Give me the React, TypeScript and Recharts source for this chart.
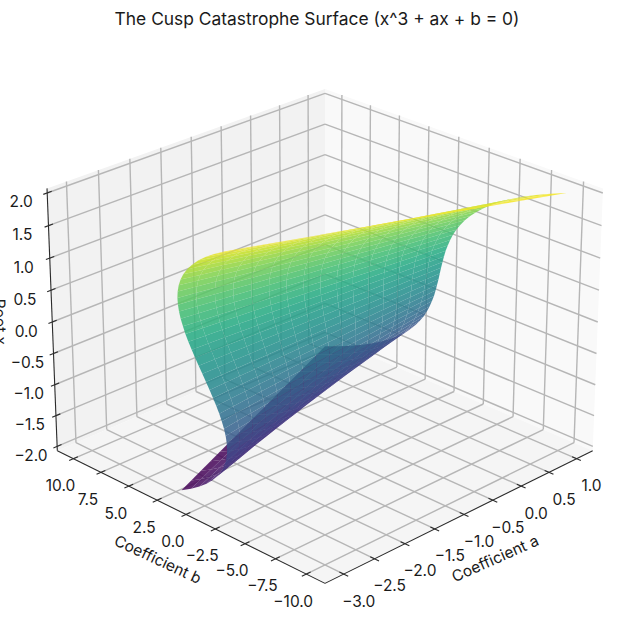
import { ScatterChart, Scatter, XAxis, YAxis } from 'recharts';

const TITLE = 'The Cusp Catastrophe Surface (x^3 + ax + b = 0)';

const aTicks = [-3, -2.5, -2, -1.5, -1, -0.5, 0, 0.5, 1];
const bTicks = [-10, -7.5, -5, -2.5, 0, 2.5, 5, 7.5, 10];
const rootTicks = [-2, -1.5, -1, -0.5, 0, 0.5, 1, 1.5, 2];

// surface samples: one row per root value, one column per value of a
const aSamples = [-3, -2.75, -2.5, -2.25, -2, -1.75, -1.5, -1.25, -1, -0.75, -0.5, -0.25, 0, 0.25, 0.5, 0.75, 1];
const rootSamples = [
  2, 1.9, 1.8, 1.7, 1.6, 1.5, 1.4, 1.3, 1.2, 1.1, 1, 0.9, 0.8, 0.7, 0.6, 0.5, 0.4, 0.3, 0.2, 0.1, 0,
  -0.1, -0.2, -0.3, -0.4, -0.5, -0.6, -0.7, -0.8, -0.9, -1, -1.1, -1.2, -1.3, -1.4, -1.5, -1.6, -1.7, -1.8, -1.9, -2,
];
const bRows = [
  [-2, -2.5, -3, -3.5, -4, -4.5, -5, -5.5, -6, -6.5, -7, -7.5, -8, -8.5, -9, -9.5, -10],
  [-1.16, -1.63, -2.11, -2.58, -3.06, -3.53, -4.01, -4.48, -4.96, -5.43, -5.91, -6.38, -6.86, -7.33, -7.81, -8.28, -8.76],
  [-0.43, -0.88, -1.33, -1.78, -2.23, -2.68, -3.13, -3.58, -4.03, -4.48, -4.93, -5.38, -5.83, -6.28, -6.73, -7.18, -7.63],
  [0.19, -0.24, -0.66, -1.09, -1.51, -1.94, -2.36, -2.79, -3.21, -3.64, -4.06, -4.49, -4.91, -5.34, -5.76, -6.19, -6.61],
  [0.7, 0.3, -0.1, -0.5, -0.9, -1.3, -1.7, -2.1, -2.5, -2.9, -3.3, -3.7, -4.1, -4.5, -4.9, -5.3, -5.7],
  [1.13, 0.75, 0.38, 0, -0.38, -0.75, -1.13, -1.5, -1.88, -2.25, -2.63, -3, -3.38, -3.75, -4.13, -4.5, -4.88],
  [1.46, 1.11, 0.76, 0.41, 0.06, -0.29, -0.64, -0.99, -1.34, -1.69, -2.04, -2.39, -2.74, -3.09, -3.44, -3.79, -4.14],
  [1.7, 1.38, 1.05, 0.73, 0.4, 0.08, -0.25, -0.57, -0.9, -1.22, -1.55, -1.87, -2.2, -2.52, -2.85, -3.17, -3.5],
  [1.87, 1.57, 1.27, 0.97, 0.67, 0.37, 0.07, -0.23, -0.53, -0.83, -1.13, -1.43, -1.73, -2.03, -2.33, -2.63, -2.93],
  [1.97, 1.69, 1.42, 1.14, 0.87, 0.59, 0.32, 0.04, -0.23, -0.51, -0.78, -1.06, -1.33, -1.61, -1.88, -2.16, -2.43],
  [2, 1.75, 1.5, 1.25, 1, 0.75, 0.5, 0.25, 0, -0.25, -0.5, -0.75, -1, -1.25, -1.5, -1.75, -2],
  [1.97, 1.75, 1.52, 1.3, 1.07, 0.85, 0.62, 0.4, 0.17, -0.05, -0.28, -0.5, -0.73, -0.95, -1.18, -1.4, -1.63],
  [1.89, 1.69, 1.49, 1.29, 1.09, 0.89, 0.69, 0.49, 0.29, 0.09, -0.11, -0.31, -0.51, -0.71, -0.91, -1.11, -1.31],
  [1.76, 1.58, 1.41, 1.23, 1.06, 0.88, 0.71, 0.53, 0.36, 0.18, 0.01, -0.17, -0.34, -0.52, -0.69, -0.87, -1.04],
  [1.58, 1.43, 1.28, 1.13, 0.98, 0.83, 0.68, 0.53, 0.38, 0.23, 0.08, -0.07, -0.22, -0.37, -0.52, -0.67, -0.82],
  [1.38, 1.25, 1.13, 1, 0.88, 0.75, 0.63, 0.5, 0.38, 0.25, 0.13, 0, -0.13, -0.25, -0.38, -0.5, -0.63],
  [1.14, 1.04, 0.94, 0.84, 0.74, 0.64, 0.54, 0.44, 0.34, 0.24, 0.14, 0.04, -0.06, -0.16, -0.26, -0.36, -0.46],
  [0.87, 0.8, 0.72, 0.65, 0.57, 0.5, 0.42, 0.35, 0.27, 0.2, 0.12, 0.05, -0.03, -0.1, -0.18, -0.25, -0.33],
  [0.59, 0.54, 0.49, 0.44, 0.39, 0.34, 0.29, 0.24, 0.19, 0.14, 0.09, 0.04, -0.01, -0.06, -0.11, -0.16, -0.21],
  [0.3, 0.27, 0.25, 0.22, 0.2, 0.17, 0.15, 0.12, 0.1, 0.07, 0.05, 0.02, 0, -0.03, -0.05, -0.08, -0.1],
  [0, 0, 0, 0, 0, 0, 0, 0, 0, 0, 0, 0, 0, 0, 0, 0, 0],
  [-0.3, -0.27, -0.25, -0.22, -0.2, -0.17, -0.15, -0.12, -0.1, -0.07, -0.05, -0.02, 0, 0.03, 0.05, 0.08, 0.1],
  [-0.59, -0.54, -0.49, -0.44, -0.39, -0.34, -0.29, -0.24, -0.19, -0.14, -0.09, -0.04, 0.01, 0.06, 0.11, 0.16, 0.21],
  [-0.87, -0.8, -0.72, -0.65, -0.57, -0.5, -0.42, -0.35, -0.27, -0.2, -0.12, -0.05, 0.03, 0.1, 0.18, 0.25, 0.33],
  [-1.14, -1.04, -0.94, -0.84, -0.74, -0.64, -0.54, -0.44, -0.34, -0.24, -0.14, -0.04, 0.06, 0.16, 0.26, 0.36, 0.46],
  [-1.38, -1.25, -1.13, -1, -0.88, -0.75, -0.63, -0.5, -0.38, -0.25, -0.13, 0, 0.13, 0.25, 0.38, 0.5, 0.63],
  [-1.58, -1.43, -1.28, -1.13, -0.98, -0.83, -0.68, -0.53, -0.38, -0.23, -0.08, 0.07, 0.22, 0.37, 0.52, 0.67, 0.82],
  [-1.76, -1.58, -1.41, -1.23, -1.06, -0.88, -0.71, -0.53, -0.36, -0.18, -0.01, 0.17, 0.34, 0.52, 0.69, 0.87, 1.04],
  [-1.89, -1.69, -1.49, -1.29, -1.09, -0.89, -0.69, -0.49, -0.29, -0.09, 0.11, 0.31, 0.51, 0.71, 0.91, 1.11, 1.31],
  [-1.97, -1.75, -1.52, -1.3, -1.07, -0.85, -0.62, -0.4, -0.17, 0.05, 0.28, 0.5, 0.73, 0.95, 1.18, 1.4, 1.63],
  [-2, -1.75, -1.5, -1.25, -1, -0.75, -0.5, -0.25, 0, 0.25, 0.5, 0.75, 1, 1.25, 1.5, 1.75, 2],
  [-1.97, -1.69, -1.42, -1.14, -0.87, -0.59, -0.32, -0.04, 0.23, 0.51, 0.78, 1.06, 1.33, 1.61, 1.88, 2.16, 2.43],
  [-1.87, -1.57, -1.27, -0.97, -0.67, -0.37, -0.07, 0.23, 0.53, 0.83, 1.13, 1.43, 1.73, 2.03, 2.33, 2.63, 2.93],
  [-1.7, -1.38, -1.05, -0.73, -0.4, -0.08, 0.25, 0.57, 0.9, 1.22, 1.55, 1.87, 2.2, 2.52, 2.85, 3.17, 3.5],
  [-1.46, -1.11, -0.76, -0.41, -0.06, 0.29, 0.64, 0.99, 1.34, 1.69, 2.04, 2.39, 2.74, 3.09, 3.44, 3.79, 4.14],
  [-1.13, -0.75, -0.38, 0, 0.38, 0.75, 1.13, 1.5, 1.88, 2.25, 2.63, 3, 3.38, 3.75, 4.13, 4.5, 4.88],
  [-0.7, -0.3, 0.1, 0.5, 0.9, 1.3, 1.7, 2.1, 2.5, 2.9, 3.3, 3.7, 4.1, 4.5, 4.9, 5.3, 5.7],
  [-0.19, 0.24, 0.66, 1.09, 1.51, 1.94, 2.36, 2.79, 3.21, 3.64, 4.06, 4.49, 4.91, 5.34, 5.76, 6.19, 6.61],
  [0.43, 0.88, 1.33, 1.78, 2.23, 2.68, 3.13, 3.58, 4.03, 4.48, 4.93, 5.38, 5.83, 6.28, 6.73, 7.18, 7.63],
  [1.16, 1.63, 2.11, 2.58, 3.06, 3.53, 4.01, 4.48, 4.96, 5.43, 5.91, 6.38, 6.86, 7.33, 7.81, 8.28, 8.76],
  [2, 2.5, 3, 3.5, 4, 4.5, 5, 5.5, 6, 6.5, 7, 7.5, 8, 8.5, 9, 9.5, 10],
];

const viridis = ['#440154', '#482475', '#414487', '#355f8d', '#2a788e', '#21918c', '#22a884', '#44bf70', '#7ad151', '#bddf26', '#fde725'];

const WIDTH = 626;
const HEIGHT = 640;
const FONT = 'Inter, sans-serif';
const TEXT = '#1a1a1a';

// camera, same maths as a matplotlib 3d axes
const ELEV = (25 * Math.PI) / 180;
const AZIM = (225 * Math.PI) / 180;
const DIST = 10;
const BOX = [1.1905, 1.1905, 0.8929];
const A_LIM = [-3.3, 1.3];
const B_LIM = [-11.5, 11.5];
const Z_LIM = [-2.07, 2.07];
const SCALE = 3240;
const CENTER_X = 325;
const CENTER_Y = 322;

const xDomain = [-CENTER_X / SCALE, (WIDTH - CENTER_X) / SCALE];
const yDomain = [(CENTER_Y - HEIGHT) / SCALE, CENTER_Y / SCALE];

type Pt = { x: number; y: number; depth: number };

function project(a: number, b: number, z: number): Pt {
  const w = [Math.cos(ELEV) * Math.cos(AZIM), Math.cos(ELEV) * Math.sin(AZIM), Math.sin(ELEV)];
  const n = Math.hypot(w[0], w[1]);
  const u = [-w[1] / n, w[0] / n, 0];
  const v = [w[1] * u[2] - w[2] * u[1], w[2] * u[0] - w[0] * u[2], w[0] * u[1] - w[1] * u[0]];
  const d = [
    ((a - A_LIM[0]) / (A_LIM[1] - A_LIM[0]) - 0.5) * BOX[0] - DIST * w[0],
    ((b - B_LIM[0]) / (B_LIM[1] - B_LIM[0]) - 0.5) * BOX[1] - DIST * w[1],
    ((z - Z_LIM[0]) / (Z_LIM[1] - Z_LIM[0]) - 0.5) * BOX[2] - DIST * w[2],
  ];
  const dot = (p: number[]) => p[0] * d[0] + p[1] * d[1] + p[2] * d[2];
  const depth = -dot(w);
  return { x: dot(u) / depth, y: dot(v) / depth, depth };
}

function viridisAt(t: number): string {
  const pos = Math.min(Math.max(t, 0), 1) * (viridis.length - 1);
  const i = Math.min(Math.floor(pos), viridis.length - 2);
  const f = pos - i;
  const ch = (hex: string, k: number) => parseInt(hex.slice(1 + k * 2, 3 + k * 2), 16);
  const mix = [0, 1, 2].map((k) => Math.round(ch(viridis[i], k) * (1 - f) + ch(viridis[i + 1], k) * f));
  return `rgb(${mix.join(',')})`;
}

// one scatter point per polygon/segment, anchored on its first vertex
function mark(pts: Pt[], extra: Record<string, unknown> = {}) {
  return { x: pts[0].x, y: pts[0].y, pts, ...extra };
}

function PolyShape(props: any) {
  const { cx, cy, payload, fill, fillOpacity } = props;
  const d = payload.pts
    .map((p: Pt) => `${cx + (p.x - payload.x) * SCALE},${cy - (p.y - payload.y) * SCALE}`)
    .join(' ');
  return <polygon points={d} fill={payload.fill ?? fill} fillOpacity={payload.opacity ?? fillOpacity} stroke="none" />;
}

function SegShape(props: any) {
  const { cx, cy, payload } = props;
  const end = payload.pts[1];
  return (
    <line
      x1={cx}
      y1={cy}
      x2={cx + (end.x - payload.x) * SCALE}
      y2={cy - (end.y - payload.y) * SCALE}
      stroke={payload.stroke}
      strokeWidth={payload.width}
    />
  );
}

function TextShape(props: any) {
  const { cx, cy, payload } = props;
  const tx = cx + payload.dx;
  const ty = cy + payload.dy;
  return (
    <text
      x={tx}
      y={ty}
      textAnchor="middle"
      dominantBaseline="central"
      fontFamily={FONT}
      fontSize={payload.size}
      fill={TEXT}
      transform={payload.rotate ? `rotate(${payload.rotate} ${tx} ${ty})` : undefined}
    >
      {payload.text}
    </text>
  );
}

const [a0, a1] = A_LIM;
const [b0, b1] = B_LIM;
const [z0, z1] = Z_LIM;

const panes = [
  mark([project(a0, b1, z0), project(a1, b1, z0), project(a1, b1, z1), project(a0, b1, z1)], { fill: '#f2f2f2' }),
  mark([project(a1, b1, z0), project(a1, b0, z0), project(a1, b0, z1), project(a1, b1, z1)], { fill: '#f9f9f9' }),
  mark([project(a0, b0, z0), project(a1, b0, z0), project(a1, b1, z0), project(a0, b1, z0)], { fill: '#f5f5f5' }),
];

const GRID = { stroke: '#b6b6b6', width: 1.4 };
const AXIS = { stroke: '#2b2b2b', width: 1.1 };

const gridLines = [
  ...aTicks.flatMap((t) => [
    mark([project(t, b0, z0), project(t, b1, z0)], GRID),
    mark([project(t, b1, z0), project(t, b1, z1)], GRID),
  ]),
  ...bTicks.flatMap((t) => [
    mark([project(a0, t, z0), project(a1, t, z0)], GRID),
    mark([project(a1, t, z0), project(a1, t, z1)], GRID),
  ]),
  ...rootTicks.flatMap((t) => [
    mark([project(a0, b1, t), project(a1, b1, t)], GRID),
    mark([project(a1, b1, t), project(a1, b0, t)], GRID),
  ]),
];

const axisLines = [
  mark([project(a0, b0, z0), project(a1, b0, z0)], AXIS),
  mark([project(a0, b0, z0), project(a0, b1, z0)], AXIS),
  mark([project(a0, b1, z0), project(a0, b1, z1)], AXIS),
  ...aTicks.map((t) => mark([project(t, b0 - 0.35, z0), project(t, b0 + 0.35, z0)], AXIS)),
  ...bTicks.map((t) => mark([project(a0 - 0.07, t, z0), project(a0 + 0.07, t, z0)], AXIS)),
  ...rootTicks.map((t) => mark([project(a0 - 0.06, b1, t), project(a0 + 0.07, b1, t)], AXIS)),
];

const cells: ReturnType<typeof mark>[] = [];
rootSamples.slice(0, -1).forEach((root, r) => {
  const nextRoot = rootSamples[r + 1];
  aSamples.slice(0, -1).forEach((a, c) => {
    const nextA = aSamples[c + 1];
    const pts = [
      project(a, bRows[r][c], root),
      project(nextA, bRows[r][c + 1], root),
      project(nextA, bRows[r + 1][c + 1], nextRoot),
      project(a, bRows[r + 1][c], nextRoot),
    ];
    const depth = pts.reduce((s, p) => s + p.depth, 0) / 4;
    cells.push(mark(pts, { fill: viridisAt(((root + nextRoot) / 2 + 2) / 4), opacity: 0.85, depth }));
  });
});
cells.sort((m: any, n: any) => n.depth - m.depth);

const fmt = (t: number) => t.toFixed(1).replace('-', '\u2212');
const TICK_SIZE = 15.5;

const labels = [
  ...aTicks.map((t) => ({ ...mark([project(t, b0, z0)]), text: fmt(t), dx: 15, dy: 27, size: TICK_SIZE })),
  ...bTicks.map((t) => ({ ...mark([project(a0, t, z0)]), text: fmt(t), dx: -13, dy: 27, size: TICK_SIZE })),
  ...rootTicks.map((t) => ({ ...mark([project(a0, b1, t)]), text: fmt(t), dx: -26, dy: 9, size: TICK_SIZE })),
  { ...mark([project(-1, b0, z0)]), text: 'Coefficient a', dx: 31, dy: 44, size: 15.5, rotate: -24 },
  { ...mark([project(a0, 0, z0)]), text: 'Coefficient b', dx: -28, dy: 45, size: 15.5, rotate: 25 },
  { ...mark([project(a0, b1, 0)]), text: 'Root x', dx: -52, dy: 0, size: 15.5, rotate: 88 },
];

export default function App() {
  return (
    <div style={{ position: 'absolute', left: 0, top: 0, width: WIDTH, height: HEIGHT, background: '#fff' }}>
      <ScatterChart width={WIDTH} height={HEIGHT} margin={{ top: 0, right: 0, bottom: 0, left: 0 }}>
        <XAxis type="number" dataKey="x" domain={xDomain} hide />
        <YAxis type="number" dataKey="y" domain={yDomain} hide />
        <Scatter data={panes} shape={PolyShape} isAnimationActive={false} />
        <Scatter data={gridLines} shape={SegShape} isAnimationActive={false} />
        <Scatter data={axisLines} shape={SegShape} isAnimationActive={false} />
        <Scatter data={cells} shape={PolyShape} isAnimationActive={false} />
        <Scatter data={labels} shape={TextShape} isAnimationActive={false} />
      </ScatterChart>
      <div
        style={{
          position: 'absolute',
          left: 0,
          top: 8,
          width: 634,
          textAlign: 'center',
          fontFamily: FONT,
          fontSize: 17.4,
          color: TEXT,
          lineHeight: '22px',
        }}
      >
        {TITLE}
      </div>
    </div>
  );
}
